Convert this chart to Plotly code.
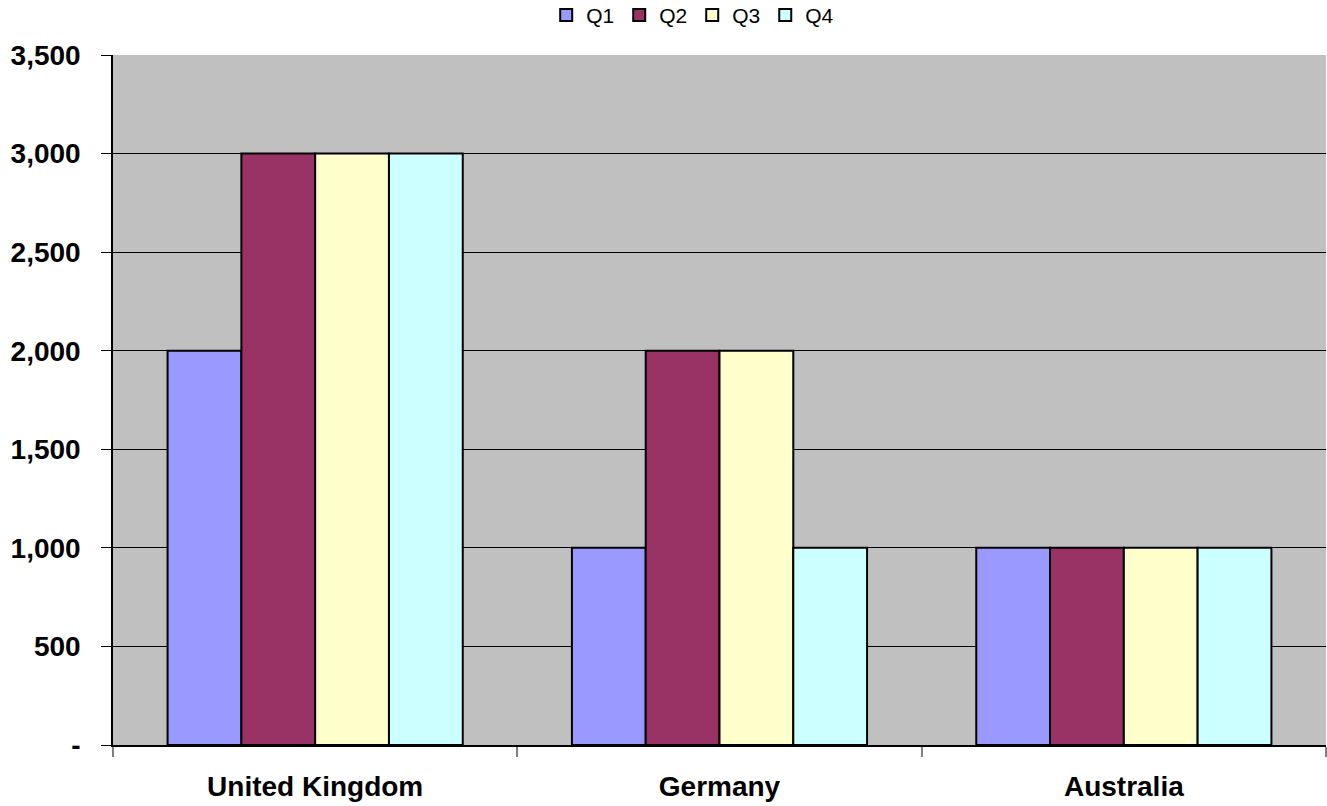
import plotly.graph_objects as go

# Quarterly figures per country
countries = ["United Kingdom", "Germany", "Australia"]
quarters = ["Q1", "Q2", "Q3", "Q4"]
q1 = [2000, 1000, 1000]
q2 = [3000, 2000, 1000]
q3 = [3000, 2000, 1000]
q4 = [3000, 1000, 1000]
series_values = [q1, q2, q3, q4]

y_tick_values = [0, 500, 1000, 1500, 2000, 2500, 3000, 3500]
y_tick_labels = ["-", "500", "1,000", "1,500", "2,000", "2,500", "3,000", "3,500"]

colors = ["#9999FF", "#993366", "#FFFFCC", "#CCFFFF"]
FONT = "Arial, Liberation Sans, sans-serif"

fig = go.Figure()
for name, vals, col in zip(quarters, series_values, colors):
    fig.add_trace(go.Bar(
        name=name, x=countries, y=vals,
        marker=dict(color=col, line=dict(color="#000000", width=2)),
    ))

fig.update_layout(
    width=1327, height=806,
    margin=dict(l=113, r=1, t=55, b=61),
    paper_bgcolor="#FFFFFF",
    plot_bgcolor="#C0C0C0",
    barmode="group",
    bargap=0.27,
    bargroupgap=0,
    font=dict(family=FONT, color="#000000"),
    showlegend=True,
    legend=dict(
        orientation="h",
        xref="container", yref="container",
        x=0.522, y=0.981, xanchor="center", yanchor="middle",
        font=dict(family=FONT, size=21, color="#000000"),
        itemwidth=30, tracegroupgap=0,
        bgcolor="rgba(0,0,0,0)",
    ),
)

fig.update_xaxes(
    type="category",
    tickson="boundaries",
    ticks="outside", ticklen=10, tickcolor="#808080", tickwidth=2,
    showline=True, linecolor="#000000", linewidth=1.5,
    showgrid=False,
    tickfont=dict(family=FONT, size=28, color="#000000", weight="bold"),
    ticklabelstandoff=16,
)

fig.update_yaxes(
    range=[0, 3500],
    tickmode="array", tickvals=y_tick_values, ticktext=y_tick_labels,
    ticks="outside", ticklen=10, tickcolor="#000000", tickwidth=1,
    showline=True, linecolor="#000000", linewidth=1.5,
    showgrid=True, gridcolor="#000000", gridwidth=1,
    zeroline=False,
    tickfont=dict(family=FONT, size=28, color="#000000", weight="bold"),
    ticklabelstandoff=15,
)

fig.write_html("out.html")
